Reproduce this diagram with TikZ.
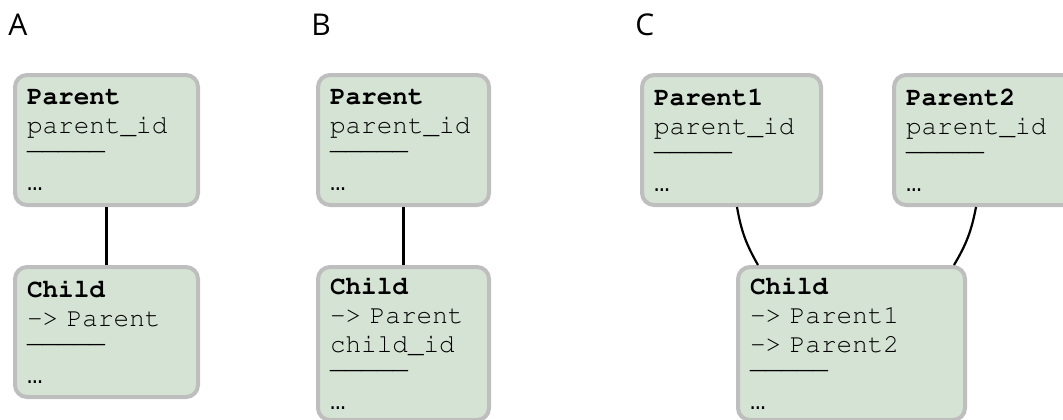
\documentclass[tikz,border=0pt]{standalone}
\usepackage[T1]{fontenc}
\usepackage{fontspec}
\newfontfamily\labelfont{Open Sans}
\newfontfamily\dotsfont{Liberation Mono}
\newcommand\codefont{\fontencoding{T1}\fontfamily{pcr}\selectfont}
\newcommand\more{{\dotsfont …}}
\usetikzlibrary{positioning}
\definecolor{boxfill}{RGB}{213,227,212}
\definecolor{boxline}{RGB}{190,190,190}

\begin{document}
\begin{tikzpicture}[
    tbl/.style={draw=boxline, fill=boxfill, line width=2pt, rounded corners=6pt,
        outer sep=1pt, inner xsep=6pt, inner ysep=0pt, align=left,
        font=\codefont\fontsize{13pt}{14.5pt}\selectfont},
    lbl/.style={font=\labelfont\fontsize{15pt}{18pt}\selectfont, inner sep=0pt},
    link/.style={line width=1.1pt}
]
        \clip (0,0) rectangle (531.5pt,-209.5pt);

        %A
        \node[tbl, text width=79.5pt, minimum height=65pt](pA) at (53.25pt,-70pt){\textbf{Parent}\\parent\_id\\[-6.5pt]\_\_\_\_\_\\[6pt]\more};
        \node[tbl, text width=79.5pt, minimum height=65pt, below = 29pt of pA](cA){\textbf{Child}\\->~Parent\\[-6.5pt]\_\_\_\_\_\\[6pt]\more};

        %B
        \node[tbl, text width=73.5pt, minimum height=65pt, right = 58pt of pA](pB){\textbf{Parent}\\parent\_id\\[-6.5pt]\_\_\_\_\_\\[6pt]\more};
        \node[tbl, text width=73.5pt, minimum height=76.5pt, below = 29pt of pB](cB){\textbf{Child}\\->~Parent\\child\_id\\[-6.5pt]\_\_\_\_\_\\[6pt]\more};

        %C
        \node[tbl, text width=77.5pt, minimum height=65pt, right = 74.5pt of pB](pC1){\textbf{Parent1}\\parent\_id\\[-6.5pt]\_\_\_\_\_\\[6pt]\more};
        \node[tbl, text width=79.5pt, minimum height=65pt, right = 34.5pt of pC1](pC2){\textbf{Parent2}\\parent\_id\\[-6.5pt]\_\_\_\_\_\\[6pt]\more};
        \node[tbl, text width=101.5pt, minimum height=76.5pt, below right = 29pt and -43.5pt of pC1](cC){\textbf{Child}\\->~Parent1\\->~Parent2\\[-6.5pt]\_\_\_\_\_\\[6pt]\more};

        %Labels
        \node[lbl, above right = 19pt and -2.5pt of pA.north west, anchor=base west](lA){A};
        \node[lbl, above right = 19pt and -2.5pt of pB.north west, anchor=base west](lB){B};
        \node[lbl, above right = 19pt and -2.5pt of pC1.north west, anchor=base west](lC){C};

        \draw[link](pA) -- (cA);
        \draw[link](pB) -- (cB);
        \draw[link]([xshift=2.75pt]pC1.south) to[bend right=10] ([xshift=11pt]cC.north west);
        \draw[link]([xshift=42pt]pC2.south west) to[bend left=10] ([xshift=-6.5pt]cC.north east);

    \end{tikzpicture}
\end{document}
